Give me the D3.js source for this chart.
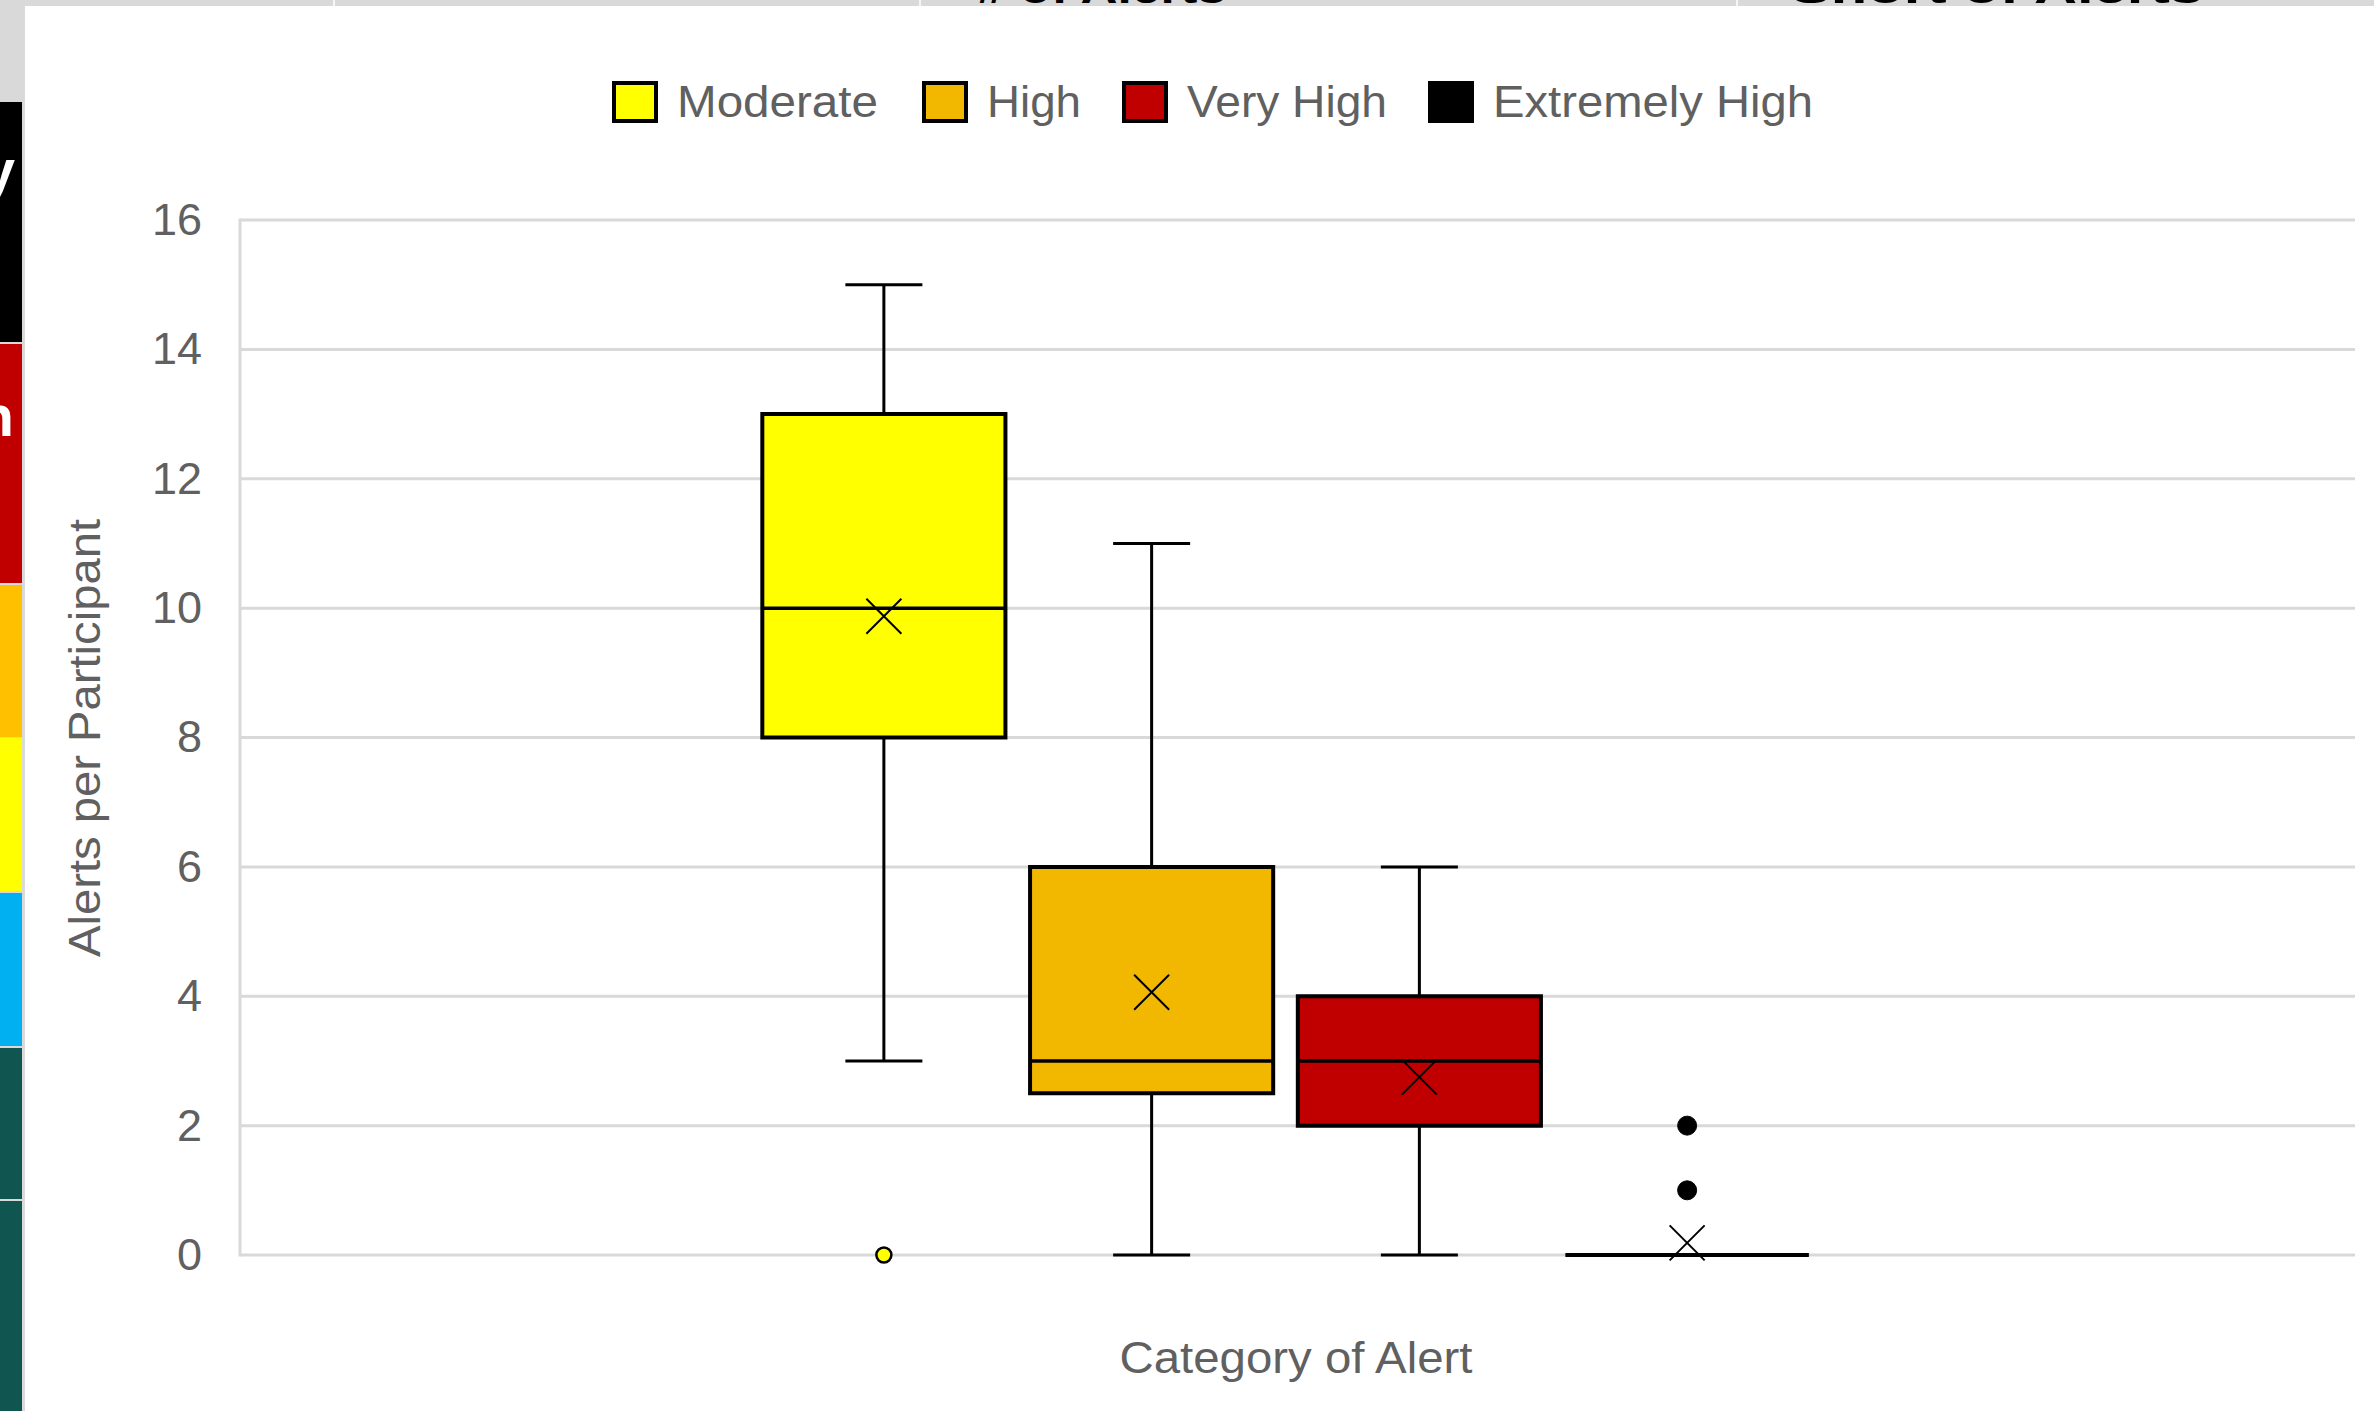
<!DOCTYPE html>
<html>
<head>
<meta charset="utf-8">
<script src="https://cdn.jsdelivr.net/npm/d3@7/dist/d3.min.js"></script>
<style>
  html, body { margin: 0; padding: 0; background: #ffffff; overflow: hidden; }
  svg { display: block; }
  text { font-family: "Liberation Sans", Arial, sans-serif; }
</style>
</head>
<body>
<script>
// ---------------- data ----------------
const categories   = ["Moderate", "High", "Very High", "Extremely High"];
const whiskerLow   = [3, 0, 0, 0];
const quartile1    = [8, 2.5, 2, 0];
const medians      = [10, 3, 3, 0];
const quartile3    = [13, 6, 4, 0];
const whiskerHigh  = [15, 11, 6, 0];
const means        = [9.875, 4.0625, 2.75, 0.1875];
const outliers     = [[0], [], [], [1, 2]];
const yTicks       = [0, 2, 4, 6, 8, 10, 12, 14, 16];
const yTitle       = "Alerts per Participant";
const xTitle       = "Category of Alert";

// ---------------- styles ----------------
const fills = ["#ffff00", "#f2b800", "#c00000", "#000000"];
const W = 2374, H = 1411;
const plot = { left: 240, right: 2355, top: 220, bottom: 1255 };

const svg = d3.select("body").append("svg").attr("width", W).attr("height", H);

// ---------- surrounding spreadsheet frame ----------
svg.append("rect").attr("x", 0).attr("y", 0).attr("width", W).attr("height", 6).attr("fill", "#d9d9d9");
svg.append("rect").attr("x", 0).attr("y", 0).attr("width", 25).attr("height", H).attr("fill", "#d9d9d9");
[334, 920, 1737].forEach(x => svg.append("line").attr("x1", x).attr("x2", x).attr("y1", 0).attr("y2", 6)
  .attr("stroke", "#ffffff").attr("stroke-width", 1.5));
// header text fragments (cut off by the window top, as in the reference)
const hdr = svg.append("g").attr("fill", "#000").attr("font-weight", "bold").attr("font-size", 40);
hdr.append("text").attr("x", 977).attr("y", 3).attr("textLength", 249).attr("lengthAdjust", "spacingAndGlyphs").text("# of Alerts");
hdr.append("text").attr("x", 1791).attr("y", 3).attr("textLength", 412).attr("lengthAdjust", "spacingAndGlyphs").text("Short of Alerts");

// left colour strip
const strip = [
  { y0: 102, y1: 342, c: "#000000" },
  { y0: 344, y1: 583, c: "#c00000" },
  { y0: 585, y1: 737, c: "#ffc000" },
  { y0: 738, y1: 891, c: "#ffff00" },
  { y0: 893, y1: 1046, c: "#00b0f0" },
  { y0: 1048, y1: 1199, c: "#105550" },
  { y0: 1201, y1: 1411, c: "#105550" }
];
svg.append("g").selectAll("rect").data(strip).join("rect")
  .attr("x", 0).attr("y", d => d.y0).attr("width", 22).attr("height", d => d.y1 - d.y0).attr("fill", d => d.c);
const stripClip = svg.append("clipPath").attr("id", "stripclip");
stripClip.append("rect").attr("x", 0).attr("y", 0).attr("width", 22).attr("height", H);
const stripText = svg.append("g").attr("clip-path", "url(#stripclip)").attr("fill", "#fff")
  .attr("font-weight", "bold").attr("font-size", 58);
stripText.append("text").attr("x", 15).attr("y", 190).attr("text-anchor", "end").text("Extremely");
stripText.append("text").attr("x", 14).attr("y", 436).attr("text-anchor", "end").text("High");

// chart area
svg.append("rect").attr("x", 25).attr("y", 6).attr("width", W - 25).attr("height", H - 6).attr("fill", "#ffffff");

// ---------------- scales ----------------
const y = d3.scaleLinear().domain([0, 16]).range([plot.bottom, plot.top]);
const x = d3.scaleBand().domain(categories).range([750, 1821]).paddingInner(0.092).paddingOuter(0.046);
const bw = x.bandwidth();
const cx = c => x(c) + bw / 2;
const capW = 77;

// gridlines
const grid = svg.append("g");
grid.selectAll("line").data(yTicks).join("line")
  .attr("x1", plot.left).attr("x2", plot.right)
  .attr("y1", d => y(d)).attr("y2", d => y(d))
  .attr("stroke", "#d9d9d9").attr("stroke-width", 3);
svg.append("line").attr("x1", plot.left).attr("x2", plot.left)
  .attr("y1", y(16) - 1.5).attr("y2", y(0) + 1.5).attr("stroke", "#d9d9d9").attr("stroke-width", 3);

// y axis labels via d3 axis
const yAxis = svg.append("g").attr("transform", `translate(${plot.left - 38},0)`)
  .call(d3.axisLeft(y).tickValues(yTicks).tickSize(0).tickPadding(0).tickFormat(d3.format("d")));
yAxis.select(".domain").remove();
yAxis.selectAll("text").attr("font-size", 45).attr("fill", "#606060")
  .attr("font-family", "'Liberation Sans', Arial, sans-serif").attr("dy", "0.32em");

// ---------------- boxes ----------------
const rows = categories.map((c, i) => ({
  c, i, lo: whiskerLow[i], q1: quartile1[i], med: medians[i], q3: quartile3[i],
  hi: whiskerHigh[i], mean: means[i], out: outliers[i], fill: fills[i]
}));

const g = svg.append("g");
// whiskers
g.selectAll(".wh").data(rows).join("path").attr("class", "wh")
  .attr("d", d => {
    const m = cx(d.c);
    return `M${m},${y(d.q3)}V${y(d.hi)}M${m - capW / 2},${y(d.hi)}H${m + capW / 2}` +
           `M${m},${y(d.q1)}V${y(d.lo)}M${m - capW / 2},${y(d.lo)}H${m + capW / 2}`;
  })
  .attr("stroke", "#000").attr("stroke-width", 3).attr("fill", "none");
// boxes
g.selectAll(".box").data(rows).join("path").attr("class", "box")
  .attr("d", d => {
    const x0 = x(d.c), x1 = x(d.c) + bw;
    return `M${x0},${y(d.q3)}H${x1}V${y(d.q1)}H${x0}Z`;
  })
  .attr("fill", d => d.fill).attr("stroke", "#000").attr("stroke-width", 4);
// medians
g.selectAll(".med").data(rows).join("line").attr("class", "med")
  .attr("x1", d => x(d.c)).attr("x2", d => x(d.c) + bw)
  .attr("y1", d => y(d.med)).attr("y2", d => y(d.med))
  .attr("stroke", "#000").attr("stroke-width", 3.5);
// mean markers
const ms = 17.5;
g.selectAll(".mean").data(rows).join("path").attr("class", "mean")
  .attr("d", d => {
    const m = cx(d.c), v = y(d.mean);
    return `M${m - ms},${v - ms}L${m + ms},${v + ms}M${m + ms},${v - ms}L${m - ms},${v + ms}`;
  })
  .attr("stroke", "#000").attr("stroke-width", 2).attr("fill", "none");
// outliers
const outPts = rows.flatMap(d => d.out.map(v => ({ c: d.c, v, fill: d.fill, i: d.i })));
g.selectAll(".out").data(outPts).join("circle").attr("class", "out")
  .attr("cx", d => cx(d.c)).attr("cy", d => y(d.v))
  .attr("r", d => d.fill === "#000000" ? 9.5 : 7.5)
  .attr("fill", d => d.fill).attr("stroke", "#000").attr("stroke-width", d => d.fill === "#000000" ? 1 : 2.5);

// ---------------- titles ----------------
svg.append("text").attr("transform", `translate(100,738) rotate(-90)`)
  .attr("text-anchor", "middle").attr("font-size", 45).attr("fill", "#606060")
  .attr("textLength", 438).attr("lengthAdjust", "spacingAndGlyphs").text(yTitle);
svg.append("text").attr("x", 1296).attr("y", 1373)
  .attr("text-anchor", "middle").attr("font-size", 44).attr("fill", "#606060")
  .attr("textLength", 353).attr("lengthAdjust", "spacingAndGlyphs").text(xTitle);

// ---------------- legend ----------------
const legendBoxX = [612, 922, 1122, 1428];
const legendTextW = [201, 94, 200, 320];
const leg = svg.append("g").selectAll("g").data(rows).join("g")
  .attr("transform", d => `translate(${legendBoxX[d.i]},0)`);
leg.append("rect").attr("x", 2).attr("y", 83).attr("width", 42).attr("height", 38)
  .attr("fill", d => d.fill).attr("stroke", "#000").attr("stroke-width", 4);
leg.append("text").attr("x", 65).attr("y", 117).attr("font-size", 45).attr("fill", "#606060")
  .attr("textLength", d => legendTextW[d.i]).attr("lengthAdjust", "spacingAndGlyphs")
  .text(d => d.c);
</script>
</body>
</html>
